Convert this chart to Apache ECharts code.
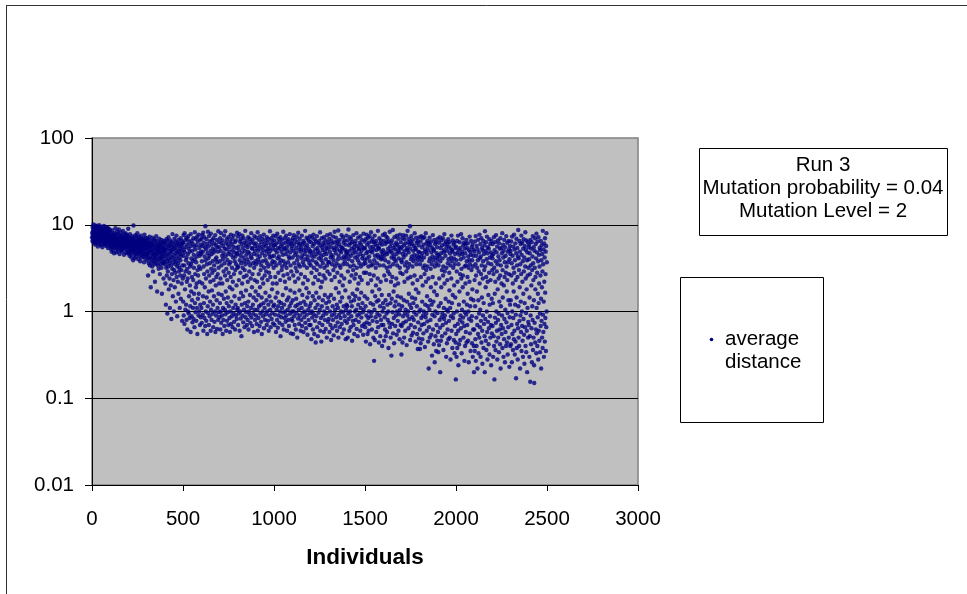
<!DOCTYPE html>
<html>
<head>
<meta charset="utf-8">
<script src="https://cdn.jsdelivr.net/npm/echarts@6/dist/echarts.min.js"></script>
<style>
  html, body { margin: 0; padding: 0; background: #fff; }
  #chart { width: 967px; height: 594px; }
</style>
</head>
<body>
<div id="chart"></div>
<script>
// Axis ticks
const xTicks = [0, 500, 1000, 1500, 2000, 2500, 3000];
const yTicks = [0.01, 0.1, 1, 10, 100];

// Info box lines and series name
const infoLines = ['Run 3', 'Mutation probability = 0.04', 'Mutation Level = 2'];
const seriesName = 'average distance';

// Average distance per individual (one row = 100 individuals)
const avgDistance = [
// 0-99
7.2,8.1,6.5,9.4,7.8,6.9,8.6,7.4,10.1,6.2,7.9,8.8,6.7,7.1,9.2,6.4,8.3,7.6,5.9,9.8,
7.0,8.4,6.6,7.7,9.0,6.1,8.0,7.3,9.6,6.8,7.5,8.7,5.6,7.9,9.3,6.3,8.2,7.0,6.9,9.9,
7.4,8.5,6.0,7.8,8.9,6.6,7.2,9.1,5.8,8.1,7.6,6.4,9.5,7.1,8.3,6.9,7.7,5.5,8.6,7.3,
9.0,6.2,7.9,8.4,6.7,7.4,9.7,6.0,8.0,7.2,5.9,8.8,7.5,6.5,9.2,7.0,8.2,6.3,7.8,5.7,
8.5,7.1,6.8,9.4,7.6,6.1,8.3,7.3,5.4,8.9,6.6,7.7,9.0,6.9,5.8,8.1,7.4,6.2,8.7,7.0,
// 100-199
6.4,7.2,5.3,8.1,6.0,5.7,7.6,6.8,4.9,7.0,6.3,8.6,5.5,6.7,7.4,5.1,6.9,7.8,5.8,6.2,
7.3,4.7,6.6,8.0,5.9,6.1,7.5,5.4,6.8,9.1,6.0,5.6,7.1,6.4,4.8,7.7,6.2,5.3,8.3,6.5,
5.8,7.0,6.3,5.0,7.9,6.7,5.5,6.1,8.8,5.9,6.6,7.2,4.6,6.4,5.7,7.4,6.0,5.2,8.2,6.9,
5.6,6.3,7.6,5.1,6.8,6.2,4.9,7.3,5.8,6.5,8.5,5.4,6.1,7.0,5.9,6.7,4.5,7.8,6.3,5.5,
6.9,7.1,5.3,6.0,8.0,5.7,6.4,4.8,7.5,6.6,5.2,6.2,7.7,5.9,6.8,4.7,6.1,7.2,5.6,9.0,
// 200-299
5.8,6.6,4.9,7.2,5.3,6.1,4.4,6.9,5.6,7.8,5.0,6.3,4.6,5.9,7.0,5.4,6.7,4.2,6.0,5.2,
7.4,5.7,4.8,6.4,5.1,6.8,3.9,5.5,9.8,6.2,5.0,7.1,4.5,5.8,6.5,4.1,6.0,5.3,7.6,4.7,
5.9,6.3,4.3,5.6,7.3,5.2,6.6,4.9,5.4,8.0,6.1,4.6,5.7,6.9,4.0,5.5,6.4,5.0,7.2,4.8,
6.2,5.3,4.4,6.7,5.8,3.8,6.0,5.1,7.5,4.7,5.9,6.4,4.2,5.6,6.8,5.0,4.5,6.3,5.4,7.0,
4.9,5.7,6.1,4.3,5.2,6.6,3.7,5.8,7.7,4.6,6.0,5.5,4.1,6.5,5.3,7.1,4.8,5.9,6.2,4.4,
// 300-399
5.2,6.4,4.6,3.9,5.8,7.0,4.3,5.5,2.6,6.1,4.8,5.3,3.6,6.7,4.1,5.9,4.9,7.3,3.4,5.6,
4.4,6.2,5.0,1.9,5.7,4.0,6.5,3.7,5.1,4.7,6.0,3.3,5.4,7.1,4.2,2.9,5.8,4.5,6.3,3.8,
5.0,4.6,6.8,3.5,5.3,4.1,2.2,5.9,6.6,4.4,3.9,5.5,4.8,7.4,3.6,5.2,4.3,6.1,1.7,5.0,
4.7,5.7,3.4,6.4,4.0,5.1,3.1,5.6,4.9,6.9,3.8,4.5,5.4,2.7,6.0,4.2,5.8,3.5,4.8,6.3,
4.1,5.3,3.2,6.7,1.6,4.6,5.5,3.9,5.0,4.3,6.2,3.6,5.7,2.4,4.9,5.2,3.7,6.5,4.4,5.1,
// 400-499
4.8,6.2,3.5,2.1,5.4,4.0,1.2,5.9,3.2,6.8,4.4,2.6,5.1,3.8,0.95,6.5,4.6,2.9,5.6,3.3,
7.2,4.1,1.8,5.3,3.6,6.0,2.4,4.7,1.1,5.8,3.9,6.6,4.3,2.0,5.0,3.4,0.82,6.3,4.9,2.7,
5.5,3.1,7.8,4.2,1.5,5.2,3.7,6.1,2.3,4.5,1.0,5.7,3.0,6.9,4.0,1.9,5.4,3.5,2.8,6.4,
4.7,1.3,5.1,3.8,7.5,2.5,4.3,5.9,0.88,3.3,6.2,4.8,2.2,5.6,3.6,1.6,6.7,4.1,2.9,5.0,
3.2,6.0,1.1,4.6,5.3,2.6,3.9,7.0,1.4,5.8,4.4,3.0,6.5,2.1,4.9,0.78,5.5,3.4,6.1,2.4,
// 500-599
6.2,1.3,4.4,7.6,0.9,5.1,2.6,3.4,0.72,8.0,4.8,1.8,6.6,1.05,2.9,5.5,3.9,1.2,7.1,0.8,
4.2,2.2,5.9,3.1,0.62,6.8,2.4,4.6,1.0,7.4,3.6,0.95,5.3,1.5,2.8,6.3,0.84,4.9,2.0,3.3,
1.15,5.7,0.58,7.8,3.5,1.7,4.1,0.88,6.5,2.5,1.35,5.0,0.75,3.8,6.0,1.1,2.3,7.0,0.82,4.5,
3.2,1.6,5.6,0.66,4.0,8.2,1.25,2.7,5.2,0.98,6.9,1.9,3.7,0.78,5.8,2.1,4.3,1.1,7.3,0.55,
3.0,6.4,1.4,2.6,4.7,0.9,7.7,1.6,3.3,1.0,5.4,2.2,4.4,0.7,6.7,1.2,3.1,5.9,0.86,4.9,
// 600-699
4.6,1.1,6.9,0.74,3.8,7.6,2.1,5.7,0.92,4.9,1.5,8.1,0.6,3.3,6.2,1.25,2.7,7.2,0.84,4.3,
1.9,5.5,0.68,9.6,3.9,1.0,2.4,5.2,0.78,6.8,1.45,3.5,6.0,0.55,2.9,4.7,1.15,8.3,0.96,4.1,
5.6,1.7,0.7,7.4,2.6,4.4,0.88,3.6,6.4,1.3,2.2,5.0,0.6,7.9,1.05,3.1,5.9,0.8,4.6,1.75,
6.6,2.8,0.94,3.8,5.3,1.2,0.66,7.0,2.3,4.8,1.5,3.4,6.1,0.76,3.0,5.1,1.0,7.6,0.58,4.0,
2.0,5.8,0.9,2.5,4.2,1.35,6.7,0.63,3.7,5.5,1.1,2.7,4.9,0.8,8.4,1.6,3.2,0.98,6.3,2.1,
// 700-799
5.5,0.86,3.8,1.25,7.0,0.62,2.4,5.0,1.0,8.0,0.74,3.4,6.1,1.55,0.9,4.4,2.1,6.6,0.55,4.0,
1.1,5.7,0.8,2.9,4.7,1.4,7.5,0.68,3.6,5.3,1.05,2.6,8.4,0.93,4.3,1.7,6.2,0.6,3.1,5.2,
1.25,6.8,0.78,2.3,3.9,0.98,5.9,1.45,4.6,0.7,7.2,2.8,1.15,3.5,5.5,0.84,4.9,1.9,0.58,6.4,
3.7,1.0,2.5,7.7,0.72,4.5,1.3,6.0,0.88,3.2,6.9,1.8,0.66,5.1,2.2,4.2,1.1,5.6,0.95,7.5,
2.7,0.76,4.8,1.5,3.8,6.3,0.62,3.0,4.3,1.2,6.6,0.9,3.5,5.4,2.0,0.82,4.7,8.1,1.05,3.2,
// 800-899
4.6,1.1,7.3,0.7,3.3,5.6,0.95,2.3,5.1,1.4,7.8,0.6,3.9,6.4,1.0,2.8,4.4,0.83,6.8,1.65,
3.6,0.52,6.0,1.2,4.8,2.1,7.5,0.9,3.2,5.4,1.5,0.75,4.2,7.0,2.5,1.05,3.8,6.2,0.66,3.0,
5.0,1.25,8.5,0.86,3.5,5.8,1.75,0.98,4.5,2.6,6.5,0.7,4.0,1.15,5.5,0.8,2.2,4.9,7.2,1.3,
0.62,3.7,5.9,1.0,2.9,4.7,0.92,6.9,1.55,3.4,0.74,6.3,2.4,4.3,1.1,8.0,0.85,4.1,5.4,1.9,
0.68,5.3,2.7,6.7,1.2,3.6,0.94,6.1,1.45,4.6,0.58,3.2,7.4,1.05,2.3,5.0,0.8,5.7,3.8,1.7,
// 900-999
6.1,0.9,3.5,1.35,7.1,0.72,4.5,2.2,5.4,1.05,8.2,0.6,4.0,5.0,1.55,0.84,2.7,6.7,1.15,3.7,
5.8,0.68,4.3,1.9,7.4,0.95,3.0,5.3,1.2,0.76,3.4,6.3,1.45,0.55,4.7,2.4,6.9,1.0,3.8,5.6,
0.88,2.1,5.1,1.25,7.7,0.64,3.2,6.0,1.1,2.6,4.4,0.8,6.6,1.65,3.9,0.93,5.7,2.9,4.9,1.35,
0.7,7.2,3.6,1.0,5.2,2.3,6.2,0.78,3.3,1.2,6.8,0.6,4.6,2.8,5.4,1.5,0.9,4.2,8.4,1.05,
2.5,5.0,0.66,5.9,1.3,3.5,7.0,0.82,4.3,1.8,6.4,0.96,3.8,2.1,5.3,0.73,7.5,1.15,3.2,5.8,
// 1000-1099
4.4,1.2,6.6,0.7,3.7,5.8,0.92,2.5,5.1,1.45,7.4,0.58,3.4,6.1,1.05,2.1,4.8,0.8,7.9,1.65,
4.1,0.65,5.4,1.15,2.8,6.9,0.9,4.3,1.3,6.3,0.74,3.6,5.3,1.0,2.3,7.2,0.52,3.9,5.7,1.25,
0.86,4.9,3.0,6.7,1.1,3.3,0.7,6.0,1.55,4.5,0.97,8.3,2.6,3.8,0.62,5.4,1.2,5.2,0.84,7.0,
2.2,3.5,1.0,6.2,0.76,4.6,1.85,7.5,0.9,3.2,5.5,1.35,0.6,5.0,2.7,6.4,1.05,3.7,0.8,6.8,
1.45,4.3,0.68,5.9,2.4,4.1,1.15,7.8,0.94,4.8,1.75,3.4,0.56,6.1,1.25,2.9,5.3,0.82,6.5,1.0,
// 1100-1199
5.7,0.78,4.2,1.35,7.0,0.55,2.6,5.0,1.0,7.6,0.88,3.6,6.0,1.65,0.7,4.5,2.2,6.7,1.15,3.2,
0.62,5.4,1.4,4.8,0.95,7.3,2.9,3.9,0.5,6.3,1.2,4.3,0.83,8.1,2.4,3.5,1.05,5.8,0.72,5.2,
1.75,6.9,0.9,3.3,6.1,1.25,0.6,4.9,2.7,5.4,0.8,4.1,1.1,7.5,0.68,4.4,1.55,5.9,0.97,3.7,
2.1,6.5,0.58,5.1,1.3,3.4,0.86,6.2,1.0,4.6,2.5,8.5,0.74,4.0,1.2,5.5,0.64,5.0,1.85,7.1,
0.92,3.2,5.8,1.45,0.54,4.3,2.3,6.8,1.05,3.9,0.8,5.3,1.65,6.4,0.7,3.6,1.15,4.8,7.4,0.96,
// 1200-1299
5.0,0.7,3.4,1.25,6.3,0.48,2.8,4.4,1.0,7.1,0.85,3.9,5.7,1.5,0.62,4.8,2.1,7.7,0.93,3.2,
6.0,0.55,4.3,1.35,6.8,0.78,2.5,5.2,1.1,0.44,3.7,6.4,1.65,0.88,4.6,3.0,7.4,0.66,3.5,5.4,
1.2,0.52,5.0,2.3,6.1,0.97,4.1,1.45,6.5,0.74,2.7,4.7,1.05,8.2,0.6,3.3,5.8,1.9,0.84,4.3,
0.45,3.9,7.0,1.15,2.2,5.5,0.7,5.1,1.35,3.6,0.9,6.2,2.6,4.5,0.58,7.2,1.0,3.2,5.9,1.55,
0.8,4.9,2.4,6.6,0.63,4.0,1.25,5.4,0.95,4.6,0.5,3.4,7.6,1.1,2.9,5.3,0.76,6.3,1.45,3.7,
// 1300-1399
5.9,0.82,3.7,1.3,6.9,0.58,2.7,4.9,1.0,7.8,0.7,4.2,5.5,1.55,0.47,4.5,2.3,6.5,0.9,3.5,
0.64,6.1,1.15,4.3,0.8,7.3,3.0,3.9,0.53,5.4,1.4,5.1,0.95,8.3,2.5,3.3,1.05,6.3,0.68,4.7,
1.85,7.1,0.86,3.6,5.7,1.2,0.6,5.2,2.8,6.4,0.75,4.0,1.1,8.6,0.5,4.4,1.65,6.0,0.92,3.4,
2.2,6.7,0.66,5.0,1.3,3.2,0.84,5.6,1.0,4.8,2.6,7.6,0.72,4.1,1.45,5.4,0.56,5.3,2.0,7.2,
0.98,3.5,6.2,1.15,0.62,4.3,2.4,6.6,0.88,3.8,0.78,5.1,1.75,5.9,0.48,4.2,1.05,4.7,7.5,1.2,
// 1400-1499
4.9,0.74,3.5,1.15,6.6,0.5,2.9,4.5,0.95,8.8,0.82,4.0,5.8,1.45,0.6,5.0,2.2,7.2,1.0,3.3,
6.1,0.66,4.4,1.3,6.8,0.88,2.6,5.3,1.15,0.46,3.8,6.3,1.6,0.78,4.7,3.0,7.6,0.7,3.4,5.5,
1.35,0.55,5.1,2.4,6.0,1.0,4.2,1.5,6.5,0.8,2.7,4.8,1.05,8.0,0.63,3.2,5.7,1.8,0.9,4.3,
0.52,3.9,7.1,1.2,2.1,5.4,0.76,5.2,1.4,3.6,0.94,6.2,2.5,4.6,0.6,7.4,1.1,3.3,5.9,1.65,
0.85,5.0,2.3,6.7,0.68,4.1,1.25,5.5,0.98,4.4,0.54,3.5,7.9,1.05,2.8,5.3,0.72,6.4,1.5,3.9,
// 1500-1599
5.4,0.66,3.6,1.15,6.8,0.45,2.8,4.7,0.9,7.7,0.75,4.1,5.9,1.4,0.55,4.9,2.1,7.1,0.84,3.3,
0.6,6.2,1.0,4.3,0.72,7.4,2.7,3.8,0.42,5.5,1.25,5.0,0.88,8.2,2.3,3.4,0.98,6.4,0.62,4.8,
1.7,6.9,0.78,3.5,5.6,1.2,0.5,5.2,2.6,6.3,0.27,3.9,1.05,7.5,0.47,4.4,1.5,6.0,0.86,3.2,
2.0,6.5,0.58,5.1,1.3,3.6,0.76,5.7,0.95,4.5,2.4,8.5,0.66,4.2,1.35,5.4,0.44,5.3,1.8,7.0,
0.9,3.4,6.1,1.15,0.52,4.3,2.2,6.6,0.8,4.0,0.7,4.9,1.55,5.9,0.4,4.1,1.0,4.6,7.6,1.25,
// 1600-1699
5.1,0.7,3.4,1.1,6.5,0.46,2.6,4.4,0.86,7.9,0.62,3.9,6.0,1.35,0.52,4.8,2.3,7.3,0.95,3.2,
6.3,0.58,4.6,1.2,7.0,0.8,2.9,5.3,1.0,0.38,3.7,6.4,1.55,0.74,4.9,2.7,8.3,0.66,3.3,5.6,
1.25,0.5,5.0,2.2,6.1,0.31,4.2,1.4,6.6,0.72,2.5,4.7,0.98,8.7,0.56,3.5,5.4,1.7,0.84,4.3,
0.43,4.0,7.2,1.15,2.0,5.8,0.68,5.2,1.3,3.8,0.9,6.2,2.4,4.6,0.54,7.5,1.0,3.4,5.9,1.5,
0.78,5.0,2.1,6.9,0.6,4.1,1.2,5.5,0.93,4.8,0.48,3.2,7.7,1.05,2.8,5.3,0.7,6.3,1.45,3.9,
// 1700-1799
0.32,5.5,0.68,3.7,1.15,7.0,0.44,2.7,4.6,0.88,7.6,0.74,4.2,5.8,1.35,0.5,5.0,2.2,6.8,0.96,
3.4,0.6,6.1,1.05,4.5,0.77,7.5,2.9,3.7,0.41,5.4,1.3,5.1,0.9,8.5,2.4,3.2,1.0,6.3,0.64,
4.8,1.6,6.9,0.82,3.5,5.9,1.2,9.6,0.47,5.3,2.5,6.4,0.7,4.0,1.1,7.4,0.53,4.3,1.45,6.0,
0.86,3.3,2.1,6.7,0.57,5.0,1.25,3.8,0.8,5.7,0.98,4.5,2.6,8.0,0.66,4.1,1.4,5.4,0.45,5.2,
1.8,7.1,0.92,3.5,6.2,1.15,0.55,4.4,2.3,6.5,0.37,3.9,0.75,4.9,1.65,5.8,0.49,4.2,1.0,7.2,
// 1800-1899
4.8,0.62,0.37,3.5,1.05,6.4,0.43,2.5,4.3,0.84,7.4,0.7,3.9,5.5,1.3,0.48,4.7,2.0,7.0,0.9,
3.2,0.56,5.9,1.0,4.2,0.72,7.2,2.7,3.4,0.39,5.2,1.2,4.9,0.86,8.0,2.2,3.0,0.95,6.1,0.6,
4.6,1.5,6.5,0.77,3.3,5.6,1.15,0.45,5.1,2.4,0.22,6.2,0.66,3.8,1.05,7.1,0.5,4.1,1.35,5.8,
0.8,3.1,1.9,6.4,0.54,4.8,1.2,3.5,0.31,5.4,0.92,4.3,2.5,7.6,0.62,3.9,1.3,5.2,0.42,5.0,
1.7,6.7,0.88,0.26,3.3,6.0,1.0,0.52,4.2,2.1,6.3,0.35,3.6,0.7,4.7,1.55,5.5,0.46,4.0,0.96,
// 1900-1999
6.9,0.58,4.5,0.34,3.4,1.15,6.2,0.41,2.4,4.3,0.8,7.2,0.65,0.2,3.8,5.4,1.25,0.46,4.7,1.9,
6.6,0.86,3.0,0.52,5.8,0.95,4.1,0.7,7.0,2.6,3.3,0.36,5.1,1.1,4.8,0.82,7.8,2.1,2.9,0.9,
6.0,0.56,4.4,1.4,6.4,0.74,0.3,3.2,5.5,1.05,0.43,5.0,2.3,6.1,0.62,3.6,1.0,6.8,0.48,4.0,
1.3,5.6,0.78,2.8,1.75,6.3,0.5,4.7,1.1,3.4,0.28,5.3,0.88,4.2,2.4,7.5,0.6,3.8,1.25,5.1,
0.38,4.9,1.55,6.6,0.84,3.2,5.9,0.95,0.47,4.1,2.0,6.2,0.33,3.5,0.68,4.6,1.45,5.4,0.44,0.165,
// 2000-2099
5.6,0.55,3.9,0.3,2.9,1.0,6.5,0.38,2.2,4.8,0.72,7.5,0.6,0.24,3.5,5.2,1.2,0.42,4.5,1.7,
6.3,0.8,2.7,0.47,5.4,0.9,4.0,0.64,7.8,2.4,3.1,0.33,4.9,1.05,4.6,0.75,7.0,1.9,2.6,0.85,
5.8,0.5,4.2,1.3,6.2,0.68,0.27,3.3,5.3,0.98,0.4,4.7,2.1,6.0,0.58,3.4,0.92,6.7,0.44,3.8,
1.2,5.4,0.7,2.5,1.6,6.1,0.46,4.3,1.0,3.2,0.26,5.1,0.82,3.9,2.2,7.3,0.56,3.5,1.15,4.9,
0.35,4.5,1.4,6.5,0.78,3.0,5.5,0.88,0.43,3.9,1.8,5.9,0.3,3.3,0.62,4.4,1.35,5.2,0.4,0.2,
// 2100-2199
0.62,4.9,2.3,0.35,6.4,1.15,0.48,3.5,7.4,0.27,2.6,4.4,0.85,0.4,5.7,1.7,3.2,0.7,0.22,5.2,
3.9,0.55,6.7,1.35,0.33,2.9,4.8,0.95,0.5,7.7,2.1,4.1,0.66,1.05,6.0,0.3,4.3,0.78,2.7,7.0,
0.44,3.4,1.45,5.4,0.6,0.25,5.1,2.4,0.9,3.8,6.5,0.38,1.25,4.6,0.72,3.0,5.8,0.52,0.2,8.4,
3.3,0.82,5.0,1.9,0.46,6.3,2.5,0.36,4.0,1.0,7.3,0.58,4.7,0.28,2.2,5.5,0.76,3.6,1.55,0.42,
5.3,0.64,2.8,6.8,0.32,1.2,4.2,0.88,6.0,0.5,2.3,4.8,0.7,0.24,3.5,6.5,1.4,0.56,4.4,3.0,
// 2200-2299
4.1,0.68,6.0,1.25,0.3,4.6,2.7,0.52,7.2,0.4,3.2,0.165,5.1,1.6,0.85,6.3,2.2,0.36,3.8,0.74,
7.6,1.0,0.45,4.8,2.9,0.6,5.6,0.28,3.5,1.8,6.6,0.8,0.5,4.3,2.4,0.94,0.34,6.1,1.3,3.9,
0.62,5.3,0.42,2.6,7.0,0.22,3.4,1.15,0.7,5.4,2.1,0.55,4.7,0.9,8.0,0.38,3.0,1.45,0.64,5.9,
4.2,0.3,5.0,2.0,0.48,6.7,0.82,2.5,3.7,0.26,5.5,1.05,0.58,4.4,2.8,0.4,7.4,0.75,3.3,1.7,
0.44,6.2,2.3,0.96,0.32,4.9,3.7,0.66,1.35,6.5,0.5,2.7,5.2,0.23,4.0,0.86,5.7,1.2,0.4,4.6,
// 2300-2399
5.0,1.35,0.42,6.4,2.6,0.7,3.6,0.26,7.3,1.0,0.55,4.4,2.1,0.36,5.6,0.84,3.2,1.7,0.48,7.7,
2.8,0.6,5.2,0.32,3.9,1.2,6.1,0.45,2.3,0.92,0.17,4.7,6.9,1.45,0.38,3.4,0.72,5.4,2.5,0.28,
4.3,0.64,8.7,1.15,0.5,4.1,3.0,0.4,6.5,0.78,1.9,4.9,0.22,3.5,0.9,6.0,1.3,0.58,2.7,7.5,
0.35,4.5,1.0,0.68,6.2,2.2,0.46,3.8,0.3,5.3,1.6,0.82,6.8,2.9,0.54,4.2,0.25,1.25,5.7,0.66,
3.3,8.2,0.4,2.4,5.1,0.96,0.34,6.6,1.8,0.6,3.9,0.2,4.8,1.1,2.6,6.3,0.5,0.76,3.2,5.5,
// 2400-2499
0.7,4.0,5.9,0.3,1.45,4.7,0.52,2.7,0.155,6.7,0.9,3.4,0.42,5.3,2.0,0.64,6.3,0.26,3.0,1.15,
4.3,0.8,7.4,0.36,3.6,2.3,0.5,5.5,1.35,0.24,0.15,5.0,0.74,3.2,7.0,0.44,1.8,2.5,6.0,0.62,
4.1,0.33,7.9,1.1,0.56,4.8,2.8,0.4,6.4,0.86,1.6,3.8,0.28,7.2,1.25,0.6,4.5,2.1,0.46,3.3,
5.4,0.95,0.34,5.1,2.6,0.68,6.5,1.4,0.22,3.9,0.78,5.8,1.9,0.5,4.6,2.9,0.38,8.5,0.92,3.5,
0.58,5.2,1.3,0.3,6.1,2.2,0.72,4.2,0.45,7.0,1.65,0.84,2.7,4.9,0.35,5.7,0.66,8.0,1.0,3.7
];

// Individual number is the position in the list
const points = avgDistance.map((v, i) => [i, v]);

const FONT = '"Liberation Sans", Arial, Helvetica, sans-serif';
const chart = echarts.init(document.getElementById('chart'), null, { renderer: 'canvas' });

chart.setOption({
  animation: false,
  backgroundColor: '#ffffff',
  textStyle: { fontFamily: FONT },
  grid: {
    left: 92, top: 138, width: 546, height: 347,
    show: true, backgroundColor: '#c0c0c0',
    borderColor: '#808080', borderWidth: 1.5
  },
  xAxis: {
    type: 'value',
    min: xTicks[0], max: xTicks[xTicks.length - 1], interval: xTicks[1] - xTicks[0],
    axisLine: { show: true, onZero: false, lineStyle: { color: '#000', width: 1 } },
    axisTick: { show: true, inside: false, length: 6, lineStyle: { color: '#000' } },
    axisLabel: { color: '#000', fontSize: 20.5, margin: 24, fontFamily: FONT, formatter: v => String(v) },
    splitLine: { show: false },
    name: 'Individuals', nameLocation: 'middle', nameGap: 61,
    nameTextStyle: { color: '#000', fontSize: 22.5, fontWeight: 'bold', fontFamily: FONT }
  },
  yAxis: {
    type: 'log', logBase: 10,
    min: yTicks[0], max: yTicks[yTicks.length - 1],
    axisLine: { show: true, lineStyle: { color: '#000', width: 1 } },
    axisTick: { show: true, inside: false, length: 7, lineStyle: { color: '#000' } },
    axisLabel: {
      color: '#000', fontSize: 20.5, margin: 18, fontFamily: FONT,
      formatter: v => String(+Number(v).toPrecision(3))
    },
    splitLine: { show: true, showMinLine: false, showMaxLine: false, lineStyle: { color: '#000', width: 1 } }
  },
  series: [{
    type: 'scatter',
    name: seriesName,
    data: points,
    symbol: 'circle',
    symbolSize: 4.4,
    itemStyle: { color: '#000080' },
    silent: true
  }],
  graphic: [
    // outer frame (top and left edges)
    { type: 'line', shape: { x1: 6, y1: 5.5, x2: 967, y2: 5.5 }, style: { stroke: '#333', lineWidth: 1 } },
    { type: 'line', shape: { x1: 6.5, y1: 5, x2: 6.5, y2: 594 }, style: { stroke: '#333', lineWidth: 1 } },
    // info box
    { type: 'rect', shape: { x: 699.5, y: 148.5, width: 248, height: 87 },
      style: { fill: '#fff', stroke: '#000', lineWidth: 1 } },
    { type: 'text', style: { text: infoLines[0], x: 823, y: 165, textAlign: 'center', textVerticalAlign: 'middle', font: '20.5px ' + FONT, fill: '#000' } },
    { type: 'text', style: { text: infoLines[1], x: 823, y: 188, textAlign: 'center', textVerticalAlign: 'middle', font: '20.5px ' + FONT, fill: '#000' } },
    { type: 'text', style: { text: infoLines[2], x: 823, y: 211, textAlign: 'center', textVerticalAlign: 'middle', font: '20.5px ' + FONT, fill: '#000' } },
    // legend box
    { type: 'rect', shape: { x: 680.5, y: 277.5, width: 143, height: 145 },
      style: { fill: '#fff', stroke: '#000', lineWidth: 1 } },
    { type: 'circle', shape: { cx: 711.5, cy: 339.5, r: 1.8 }, style: { fill: '#000080' } },
    { type: 'text', style: { text: 'average', x: 725, y: 339, textAlign: 'left', textVerticalAlign: 'middle', font: '20.5px ' + FONT, fill: '#000' } },
    { type: 'text', style: { text: 'distance', x: 725, y: 362, textAlign: 'left', textVerticalAlign: 'middle', font: '20.5px ' + FONT, fill: '#000' } }
  ]
});
</script>
</body>
</html>
